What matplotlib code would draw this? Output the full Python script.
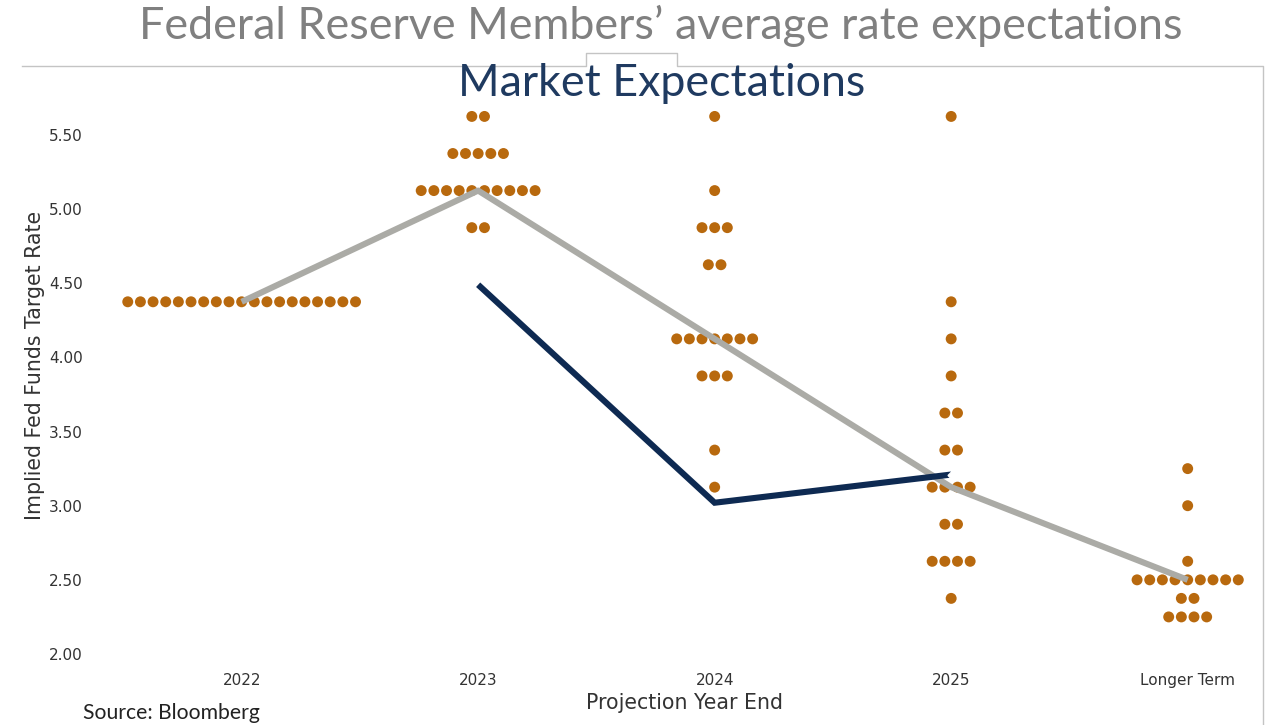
import matplotlib
matplotlib.use("Agg")
import matplotlib.pyplot as plt
from matplotlib.lines import Line2D
import numpy as np

# Projection horizons
categories = ["2022", "2023", "2024", "2025", "Longer Term"]

# FOMC participants' projections: (rate level, number of participants)
dots_2022 = [(4.375, 19)]
dots_2023 = [(5.625, 2), (5.375, 5), (5.125, 10), (4.875, 2)]
dots_2024 = [(5.625, 1), (5.125, 1), (4.875, 3), (4.625, 2), (4.125, 7),
             (3.875, 3), (3.375, 1), (3.125, 1)]
dots_2025 = [(5.625, 1), (4.375, 1), (4.125, 1), (3.875, 1), (3.625, 2),
             (3.375, 2), (3.125, 4), (2.875, 2), (2.625, 4), (2.375, 1)]
dots_longer = [(3.25, 1), (3.0, 1), (2.625, 1), (2.5, 9), (2.375, 2), (2.25, 4)]
dot_plot = [dots_2022, dots_2023, dots_2024, dots_2025, dots_longer]

# Median of FOMC projections
fed_median = [4.375, 5.125, 4.125, 3.125, 2.5]

# Market-implied path (2023 - 2025)
market_years = [1, 2, 3]
market_rates = [4.49, 3.02, 3.21]

yticks = [2.0, 2.5, 3.0, 3.5, 4.0, 4.5, 5.0, 5.5]

DOT = "#B8690E"
GREY = "#ABABA6"
NAVY = "#0E2A52"
FRAME = "#C4C4C4"
LABEL = "#333333"

W, H = 1272, 725
fig = plt.figure(figsize=(W / 100, H / 100), dpi=100)
fig.patch.set_facecolor("white")

ax = fig.add_axes([95 / W, (H - 661.4) / H, 1166 / W, (661.4 - 97.9) / H])
ax.set_xlim(-0.62, 4.31)
ax.set_ylim(1.95, 5.75)
ax.set_facecolor("white")
for s in ax.spines.values():
    s.set_visible(False)

# Dots, spread horizontally around each horizon
step = 0.0535
for xi, rows in enumerate(dot_plot):
    for level, n in rows:
        offs = (np.arange(n) - (n - 1) / 2) * step
        ax.scatter(xi + offs, np.full(n, level), s=62, color=DOT,
                   edgecolors="none", zorder=2)

# Median line
ax.plot(range(len(categories)), fed_median, color=GREY, lw=4.4,
        solid_capstyle="butt", zorder=3)

# Market expectations line
ax.plot(market_years, market_rates, color=NAVY, lw=4.4,
        solid_capstyle="butt", solid_joinstyle="miter", zorder=4)
ax.plot([market_years[-1]], [market_rates[-1]], marker="D", ms=3.5,
        color="white", mec="white", zorder=5)

ax.set_xticks(range(len(categories)))
ax.set_xticklabels(categories)
ax.set_yticks(yticks)
ax.set_yticklabels([f"{v:.2f}" for v in yticks])
ax.tick_params(axis="both", length=0, labelsize=11, labelcolor=LABEL)
ax.tick_params(axis="x", pad=8)
ax.tick_params(axis="y", pad=9)
for lab in ax.get_xticklabels() + ax.get_yticklabels():
    lab.set_fontfamily("DejaVu Sans")

fig.text(35 / W, 1 - 365 / H, "Implied Fed Funds Target Rate", rotation=90,
         ha="center", va="center", fontsize=14.8, color=LABEL,
         family="DejaVu Sans")
fig.text(685 / W, 1 - 703 / H, "Projection Year End", ha="center",
         va="center", fontsize=14.8, color=LABEL, family="DejaVu Sans")

# Headings
fig.text(661 / W, 1 - 26 / H, "Federal Reserve Members\u2019 average rate expectations",
         ha="center", va="center", fontsize=32.3, color="#808080", family="Lato")
fig.text(662 / W, 1 - 84 / H, "Market Expectations", ha="center",
         va="center", fontsize=32.2, color="#1F3A60", family="Lato")
fig.text(83 / W, 1 - 713 / H, "Source: Bloomberg", ha="left", va="center",
         fontsize=15.2, color="#222222", family="Lato")

# Panel frame with the heading tab
fx = np.array([22, 586, 586, 677, 677, 1263, 1263])
fy = np.array([66, 66, 53, 53, 66, 66, 725])
fig.add_artist(Line2D(fx / W, 1 - fy / H, color=FRAME, lw=1.0,
                      transform=fig.transFigure))

fig.savefig("out.png", dpi=100, facecolor="white")
